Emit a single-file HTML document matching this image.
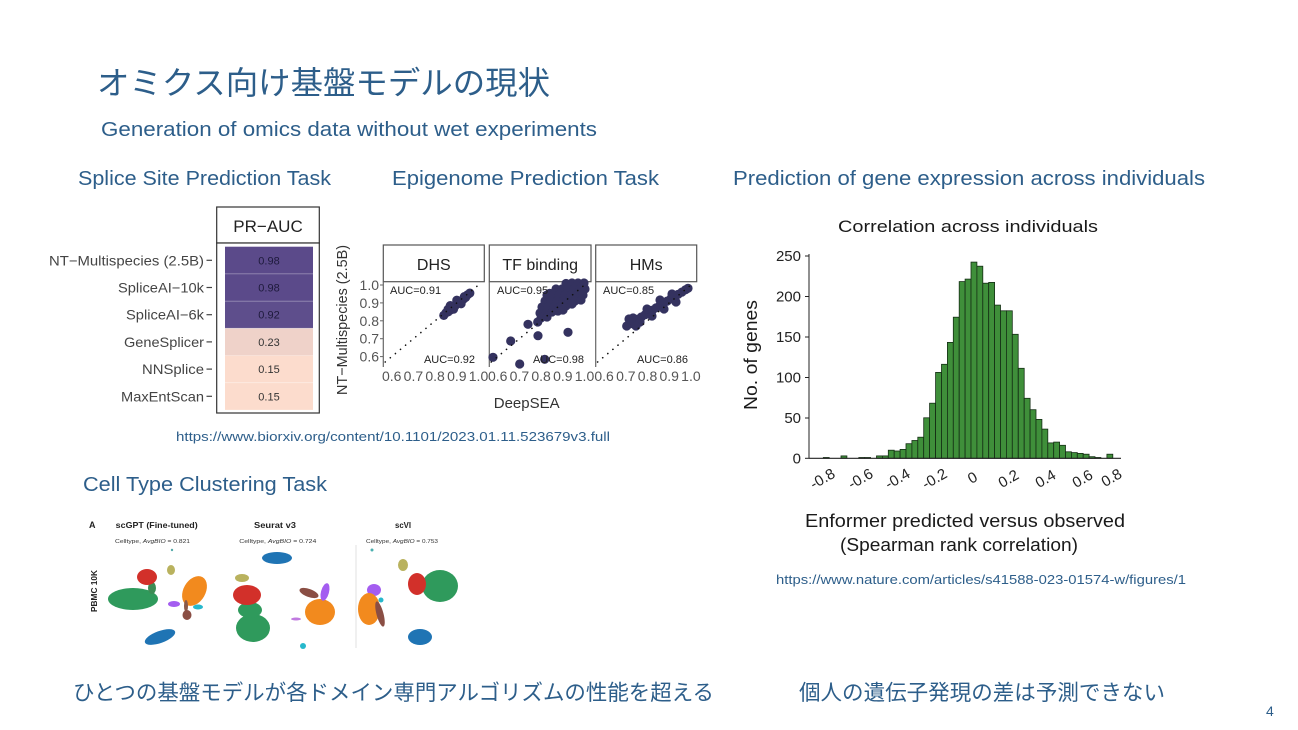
<!DOCTYPE html>
<html>
<head>
<meta charset="utf-8">
<style>
html,body{margin:0;padding:0;background:#fff;}
body{width:1298px;height:730px;overflow:hidden;}
svg{display:block;}
.ja{font-family:"Liberation Sans","Noto Sans CJK JP",sans-serif;}
.lt{font-family:"Liberation Sans",sans-serif;}
</style>
</head>
<body>
<svg width="1298" height="730" viewBox="0 0 1298 730" xmlns="http://www.w3.org/2000/svg">
<rect x="0" y="0" width="1298" height="730" fill="#fff"/>

<!-- Slide texts -->
<g fill="#2d5e8a">
<text class="ja" x="97" y="94" font-size="32" textLength="453" lengthAdjust="spacingAndGlyphs">オミクス向け基盤モデルの現状</text>
<text class="lt" x="101" y="136" font-size="20" textLength="496" lengthAdjust="spacingAndGlyphs">Generation of omics data without wet experiments</text>
<text class="lt" x="78" y="185" font-size="20" textLength="253" lengthAdjust="spacingAndGlyphs">Splice Site Prediction Task</text>
<text class="lt" x="392" y="185" font-size="20" textLength="267" lengthAdjust="spacingAndGlyphs">Epigenome Prediction Task</text>
<text class="lt" x="733" y="185" font-size="20" textLength="472" lengthAdjust="spacingAndGlyphs">Prediction of gene expression across individuals</text>
<text class="lt" x="176" y="441" font-size="12.5" textLength="434" lengthAdjust="spacingAndGlyphs">https://www.biorxiv.org/content/10.1101/2023.01.11.523679v3.full</text>
<text class="lt" x="83" y="491" font-size="20" textLength="244" lengthAdjust="spacingAndGlyphs">Cell Type Clustering Task</text>
<text class="lt" x="776" y="584" font-size="12.5" textLength="410" lengthAdjust="spacingAndGlyphs">https://www.nature.com/articles/s41588-023-01574-w/figures/1</text>
<text class="ja" x="73" y="700" font-size="21.4" textLength="641" lengthAdjust="spacingAndGlyphs">ひとつの基盤モデルが各ドメイン専門アルゴリズムの性能を超える</text>
<text class="ja" x="799" y="700" font-size="21.5" textLength="366" lengthAdjust="spacingAndGlyphs">個人の遺伝子発現の差は予測できない</text>
<text class="lt" x="1266" y="716" font-size="14">4</text>
</g>

<!-- Heatmap: PR-AUC -->
<g class="lt">
<rect x="216.7" y="207" width="102.6" height="36" fill="#fff" stroke="#333" stroke-width="1.2"/>
<text x="268" y="232" font-size="17" text-anchor="middle" fill="#222">PR−AUC</text>
<rect x="216.7" y="243" width="102.6" height="170" fill="#fff" stroke="#333" stroke-width="1.2"/>
<rect x="225" y="246.7" width="88" height="27.2" fill="#5b4a8a"/>
<rect x="225" y="273.9" width="88" height="27.2" fill="#5b4a8a"/>
<rect x="225" y="301.1" width="88" height="27.2" fill="#5e4e8c"/>
<rect x="225" y="328.3" width="88" height="27.2" fill="#efd2c9"/>
<rect x="225" y="355.5" width="88" height="27.2" fill="#fcdccd"/>
<rect x="225" y="382.7" width="88" height="27.2" fill="#fcdccd"/>
<g stroke="#fff" stroke-opacity="0.35" stroke-width="0.8">
<line x1="225" y1="273.9" x2="313" y2="273.9"/>
<line x1="225" y1="301.1" x2="313" y2="301.1"/>
<line x1="225" y1="328.3" x2="313" y2="328.3"/>
<line x1="225" y1="355.5" x2="313" y2="355.5"/>
<line x1="225" y1="382.7" x2="313" y2="382.7"/>
</g>
<g font-size="11" text-anchor="middle">
<text x="269" y="264.3" fill="#1e1a3c">0.98</text>
<text x="269" y="291.5" fill="#1e1a3c">0.98</text>
<text x="269" y="318.7" fill="#1e1a3c">0.92</text>
<text x="269" y="345.9" fill="#333">0.23</text>
<text x="269" y="373.1" fill="#333">0.15</text>
<text x="269" y="400.3" fill="#333">0.15</text>
</g>
<g font-size="14" fill="#444" text-anchor="end">
<text x="204" y="265.3" textLength="155" lengthAdjust="spacingAndGlyphs">NT−Multispecies (2.5B)</text>
<text x="204" y="292.5" textLength="86" lengthAdjust="spacingAndGlyphs">SpliceAI−10k</text>
<text x="204" y="319.7" textLength="78" lengthAdjust="spacingAndGlyphs">SpliceAI−6k</text>
<text x="204" y="346.9" textLength="80" lengthAdjust="spacingAndGlyphs">GeneSplicer</text>
<text x="204" y="374.1" textLength="62" lengthAdjust="spacingAndGlyphs">NNSplice</text>
<text x="204" y="401.3" textLength="83" lengthAdjust="spacingAndGlyphs">MaxEntScan</text>
</g>
<g stroke="#444" stroke-width="1.2">
<line x1="206.5" y1="260.3" x2="212" y2="260.3"/>
<line x1="206.5" y1="287.5" x2="212" y2="287.5"/>
<line x1="206.5" y1="314.7" x2="212" y2="314.7"/>
<line x1="206.5" y1="341.9" x2="212" y2="341.9"/>
<line x1="206.5" y1="369.1" x2="212" y2="369.1"/>
<line x1="206.5" y1="396.3" x2="212" y2="396.3"/>
</g>
</g>

<!-- Epigenome scatter panels -->
<g class="lt">
<!-- strips -->
<g fill="#fff" stroke="#555" stroke-width="1.2">
<rect x="383.3" y="245" width="101" height="36.7"/>
<rect x="489.3" y="245" width="101.7" height="36.7"/>
<rect x="595.7" y="245" width="101" height="36.7"/>
</g>
<g font-size="16" fill="#222" text-anchor="middle">
<text x="433.8" y="270">DHS</text>
<text x="540.2" y="270">TF binding</text>
<text x="646.2" y="270">HMs</text>
</g>
<!-- left axis lines -->
<g stroke="#666" stroke-width="1.2">
<line x1="383.3" y1="281.7" x2="383.3" y2="367"/>
<line x1="489.3" y1="281.7" x2="489.3" y2="367"/>
<line x1="595.7" y1="281.7" x2="595.7" y2="367"/>
</g>
<!-- y ticks -->
<g stroke="#666" stroke-width="1">
<line x1="380" y1="285" x2="383.3" y2="285"/>
<line x1="380" y1="302.9" x2="383.3" y2="302.9"/>
<line x1="380" y1="320.8" x2="383.3" y2="320.8"/>
<line x1="380" y1="338.7" x2="383.3" y2="338.7"/>
<line x1="380" y1="356.6" x2="383.3" y2="356.6"/>
</g>
<g font-size="14" fill="#555" text-anchor="end">
<text x="379" y="290">1.0</text>
<text x="379" y="307.9">0.9</text>
<text x="379" y="325.8">0.8</text>
<text x="379" y="343.7">0.7</text>
<text x="379" y="361.6">0.6</text>
</g>
<!-- x tick labels -->
<g font-size="14" fill="#555" text-anchor="middle">
<text x="391.7" y="381">0.6</text><text x="413.4" y="381">0.7</text><text x="435.1" y="381">0.8</text><text x="456.8" y="381">0.9</text><text x="478.5" y="381">1.0</text>
<text x="497.7" y="381">0.6</text><text x="519.4" y="381">0.7</text><text x="541.1" y="381">0.8</text><text x="562.8" y="381">0.9</text><text x="584.5" y="381">1.0</text>
<text x="604.1" y="381">0.6</text><text x="625.8" y="381">0.7</text><text x="647.5" y="381">0.8</text><text x="669.2" y="381">0.9</text><text x="690.9" y="381">1.0</text>
</g>
<text x="526.7" y="408" font-size="15" fill="#333" text-anchor="middle">DeepSEA</text>
<text transform="translate(347,320) rotate(-90)" font-size="15" fill="#333" text-anchor="middle" textLength="150" lengthAdjust="spacingAndGlyphs">NT−Multispecies (2.5B)</text>

<!-- points -->
<g fill="#34325f">
<!-- DHS -->
<circle cx="443.8" cy="315.4" r="4.6"/><circle cx="446" cy="312.7" r="4.6"/><circle cx="448.1" cy="311.9" r="4.6"/>
<circle cx="450.3" cy="310.1" r="4.6"/><circle cx="451.4" cy="308.3" r="4.6"/><circle cx="452.5" cy="307.4" r="4.6"/>
<circle cx="454.6" cy="306.5" r="4.6"/><circle cx="455.7" cy="304.7" r="4.6"/><circle cx="456.8" cy="303.8" r="4.6"/>
<circle cx="459" cy="302.9" r="4.6"/><circle cx="461.1" cy="301.1" r="4.6"/><circle cx="463.3" cy="299.3" r="4.6"/>
<circle cx="465.5" cy="297.5" r="4.6"/><circle cx="467.6" cy="294.8" r="4.6"/><circle cx="469.8" cy="293.1" r="4.6"/>
<circle cx="450.3" cy="305.6" r="4.6"/><circle cx="456.8" cy="300.2" r="4.6"/><circle cx="461.1" cy="303.8" r="4.6"/>
<circle cx="453.5" cy="309.2" r="4.6"/><circle cx="464.4" cy="296.6" r="4.6"/><circle cx="448.1" cy="309.2" r="4.6"/>
<!-- TF binding -->
<circle cx="493" cy="357.3" r="4.6"/><circle cx="510.7" cy="341" r="4.6"/><circle cx="519.7" cy="364" r="4.6"/>
<circle cx="528" cy="324.3" r="4.6"/><circle cx="537.7" cy="322" r="4.6"/><circle cx="538" cy="335.7" r="4.6"/>
<circle cx="544.7" cy="359.3" r="4.6"/><circle cx="568" cy="332.3" r="4.6"/><circle cx="549.7" cy="293.3" r="4.6"/>
<circle cx="566" cy="283.5" r="4.6"/><circle cx="572" cy="283" r="4.6"/><circle cx="578" cy="283" r="4.6"/><circle cx="584" cy="283" r="4.6"/>
<circle cx="556" cy="289" r="4.6"/><circle cx="562" cy="289" r="4.6"/><circle cx="568" cy="289" r="4.6"/><circle cx="574" cy="289" r="4.6"/><circle cx="580" cy="289" r="4.6"/><circle cx="585" cy="289" r="4.6"/>
<circle cx="547" cy="295" r="4.6"/><circle cx="553" cy="295" r="4.6"/><circle cx="559" cy="295" r="4.6"/><circle cx="565" cy="295" r="4.6"/><circle cx="571" cy="295" r="4.6"/><circle cx="577" cy="295" r="4.6"/><circle cx="583" cy="295" r="4.6"/>
<circle cx="545" cy="301" r="4.6"/><circle cx="551" cy="301" r="4.6"/><circle cx="557" cy="301" r="4.6"/><circle cx="563" cy="301" r="4.6"/><circle cx="569" cy="301" r="4.6"/><circle cx="575" cy="301" r="4.6"/><circle cx="581" cy="300" r="4.6"/>
<circle cx="542" cy="307" r="4.6"/><circle cx="548" cy="307" r="4.6"/><circle cx="554" cy="307" r="4.6"/><circle cx="560" cy="307" r="4.6"/><circle cx="566" cy="306" r="4.6"/><circle cx="572" cy="304" r="4.6"/>
<circle cx="540" cy="313" r="4.6"/><circle cx="546" cy="313" r="4.6"/><circle cx="552" cy="312" r="4.6"/><circle cx="558" cy="311" r="4.6"/><circle cx="563" cy="310" r="4.6"/>
<circle cx="541" cy="318" r="4.6"/><circle cx="547" cy="317" r="4.6"/>
<!-- HMs -->
<circle cx="626.7" cy="326" r="4.6"/><circle cx="630.4" cy="323.7" r="4.6"/><circle cx="634.1" cy="321.5" r="4.6"/>
<circle cx="637.7" cy="319.2" r="4.6"/><circle cx="641.4" cy="317" r="4.6"/><circle cx="645.1" cy="314.7" r="4.6"/>
<circle cx="648.8" cy="312.4" r="4.6"/><circle cx="652.4" cy="310.2" r="4.6"/><circle cx="656.1" cy="307.9" r="4.6"/>
<circle cx="659.8" cy="305.6" r="4.6"/><circle cx="663.5" cy="303.4" r="4.6"/><circle cx="667.2" cy="301.1" r="4.6"/>
<circle cx="670.8" cy="298.9" r="4.6"/><circle cx="674.5" cy="296.6" r="4.6"/><circle cx="678.2" cy="294.3" r="4.6"/>
<circle cx="681.9" cy="292.1" r="4.6"/><circle cx="685.5" cy="289.8" r="4.6"/><circle cx="688" cy="288.3" r="4.6"/>
<circle cx="633" cy="318" r="4.6"/><circle cx="640" cy="322" r="4.6"/><circle cx="647" cy="309" r="4.6"/>
<circle cx="652" cy="316" r="4.6"/><circle cx="660" cy="300" r="4.6"/><circle cx="664" cy="309" r="4.6"/>
<circle cx="672" cy="294" r="4.6"/><circle cx="676" cy="302" r="4.6"/><circle cx="636" cy="326" r="4.6"/><circle cx="629" cy="319" r="4.6"/>
</g>
<!-- diagonal dotted lines -->
<g stroke="#111" stroke-width="1.6" stroke-linecap="round" stroke-dasharray="0.1 6.5">
<line x1="385.2" y1="362" x2="478.5" y2="285"/>
<line x1="491.2" y1="362" x2="584.5" y2="285"/>
<line x1="597.6" y1="362" x2="690.9" y2="285"/>
</g>
<!-- AUC labels -->
<g font-size="11" fill="#222">
<text x="390" y="294">AUC=0.91</text>
<text x="475" y="363" text-anchor="end">AUC=0.92</text>
<text x="497" y="294">AUC=0.95</text>
<text x="584" y="363" text-anchor="end">AUC=0.98</text>
<text x="603" y="294">AUC=0.85</text>
<text x="688" y="363" text-anchor="end">AUC=0.86</text>
</g>
</g>

<!-- UMAP panels -->
<g class="lt">
<text x="89" y="528" font-size="9" font-weight="bold" fill="#222">A</text>
<g font-size="8.5" font-weight="bold" fill="#222" text-anchor="middle">
<text x="156.7" y="528" textLength="82" lengthAdjust="spacingAndGlyphs">scGPT (Fine-tuned)</text>
<text x="275" y="528" textLength="42" lengthAdjust="spacingAndGlyphs">Seurat v3</text>
<text x="403" y="528" textLength="16" lengthAdjust="spacingAndGlyphs">scVI</text>
</g>
<g font-size="5.8" fill="#333">
<text x="115" y="543" textLength="75" lengthAdjust="spacingAndGlyphs">Celltype, <tspan font-style="italic">AvgBIO</tspan> = 0.821</text>
<text x="239.3" y="543" textLength="77" lengthAdjust="spacingAndGlyphs">Celltype, <tspan font-style="italic">AvgBIO</tspan> = 0.724</text>
<text x="366" y="543" textLength="72" lengthAdjust="spacingAndGlyphs">Celltype, <tspan font-style="italic">AvgBIO</tspan> = 0.753</text>
</g>
<text transform="translate(97,591) rotate(-90)" font-size="8" font-weight="bold" fill="#222" text-anchor="middle" textLength="42" lengthAdjust="spacingAndGlyphs">PBMC 10K</text>
<line x1="356" y1="545" x2="356" y2="648" stroke="#e2e2e2" stroke-width="1"/>
<!-- panel 1 -->
<ellipse cx="133" cy="599" rx="25" ry="11" fill="#2f9a5c"/>
<ellipse cx="152" cy="588" rx="4" ry="6" fill="#3d8c55"/>
<ellipse cx="147" cy="577" rx="10" ry="8" fill="#d2302a"/>
<ellipse cx="171" cy="570" rx="4" ry="5" fill="#b9b25e"/>
<ellipse cx="194.5" cy="591" rx="11" ry="16" transform="rotate(30 194.5 591)" fill="#f28a1e"/>
<ellipse cx="174" cy="604" rx="6" ry="3" fill="#a45df0"/>
<ellipse cx="198" cy="607" rx="5" ry="2.5" fill="#27b8cc"/>
<ellipse cx="186" cy="606" rx="2" ry="6" fill="#8a5a4a"/>
<ellipse cx="187" cy="615" rx="4.5" ry="5" fill="#8a4e44"/>
<ellipse cx="160" cy="637" rx="16" ry="6" transform="rotate(-20 160 637)" fill="#1f74b4"/>
<circle cx="172" cy="550" r="1.2" fill="#5aa"/>
<!-- panel 2 -->
<ellipse cx="277" cy="558" rx="15" ry="6" fill="#1f74b4"/>
<ellipse cx="242" cy="578" rx="7" ry="4" fill="#b9b25e"/>
<ellipse cx="253" cy="628" rx="17" ry="14" fill="#2f9a5c"/>
<ellipse cx="250" cy="610" rx="12" ry="8" fill="#2f9a5c"/>
<ellipse cx="247" cy="595" rx="14" ry="10" fill="#d2302a"/>
<ellipse cx="320" cy="612" rx="15" ry="13" fill="#f28a1e"/>
<ellipse cx="309" cy="593" rx="10" ry="4" transform="rotate(20 309 593)" fill="#8a4e44"/>
<ellipse cx="325" cy="592" rx="4" ry="9" transform="rotate(15 325 592)" fill="#a45df0"/>
<ellipse cx="296" cy="619" rx="5" ry="1.5" fill="#c07ae0"/>
<circle cx="303" cy="646" r="3" fill="#27b8cc"/>
<!-- panel 3 -->
<ellipse cx="440" cy="586" rx="18" ry="16" fill="#2f9a5c"/>
<ellipse cx="417" cy="584" rx="9" ry="11" fill="#d2302a"/>
<ellipse cx="403" cy="565" rx="5" ry="6" fill="#b9b25e"/>
<ellipse cx="374" cy="590" rx="7" ry="6" fill="#a45df0"/>
<ellipse cx="369" cy="609" rx="11" ry="16" fill="#f28a1e"/>
<ellipse cx="380" cy="614" rx="3.5" ry="13" transform="rotate(-15 380 614)" fill="#8a4e44"/>
<circle cx="381" cy="600" r="2.5" fill="#27b8cc"/>
<ellipse cx="420" cy="637" rx="12" ry="8" fill="#1f74b4"/>
<circle cx="372" cy="550" r="1.5" fill="#4ab0b0"/>
</g>

<!-- Histogram -->
<g class="lt">
<text x="968" y="232" font-size="17" fill="#1a1a1a" text-anchor="middle" textLength="260" lengthAdjust="spacingAndGlyphs">Correlation across individuals</text>
<g transform="matrix(1 0 0 -1 0 458.3)" fill="#3f8f3a" stroke="#142e14" stroke-width="0.8">
<rect x="823.3" y="0" width="5.9" height="0.8"/>
<rect x="841.0" y="0" width="5.9" height="2.4"/>
<rect x="858.8" y="0" width="5.9" height="0.8"/>
<rect x="864.7" y="0" width="5.9" height="0.8"/>
<rect x="876.5" y="0" width="5.9" height="2.4"/>
<rect x="882.4" y="0" width="5.9" height="2.4"/>
<rect x="888.3" y="0" width="5.9" height="8.1"/>
<rect x="894.2" y="0" width="5.9" height="7.3"/>
<rect x="900.1" y="0" width="5.9" height="8.9"/>
<rect x="906.0" y="0" width="5.9" height="14.6"/>
<rect x="911.9" y="0" width="5.9" height="17.8"/>
<rect x="917.8" y="0" width="5.9" height="21.1"/>
<rect x="923.7" y="0" width="5.9" height="40.5"/>
<rect x="929.6" y="0" width="5.9" height="55.1"/>
<rect x="935.6" y="0" width="5.9" height="85.9"/>
<rect x="941.5" y="0" width="5.9" height="94.0"/>
<rect x="947.4" y="0" width="5.9" height="115.9"/>
<rect x="953.3" y="0" width="5.9" height="141.1"/>
<rect x="959.2" y="0" width="5.9" height="176.7"/>
<rect x="965.1" y="0" width="5.9" height="179.2"/>
<rect x="971.0" y="0" width="5.9" height="196.2"/>
<rect x="976.9" y="0" width="5.9" height="192.1"/>
<rect x="982.8" y="0" width="5.9" height="175.1"/>
<rect x="988.7" y="0" width="5.9" height="175.9"/>
<rect x="994.6" y="0" width="5.9" height="153.2"/>
<rect x="1000.5" y="0" width="5.9" height="147.5"/>
<rect x="1006.4" y="0" width="5.9" height="147.5"/>
<rect x="1012.3" y="0" width="5.9" height="124.0"/>
<rect x="1018.3" y="0" width="5.9" height="90.0"/>
<rect x="1024.2" y="0" width="5.9" height="60.0"/>
<rect x="1030.1" y="0" width="5.9" height="48.6"/>
<rect x="1036.0" y="0" width="5.9" height="38.9"/>
<rect x="1041.9" y="0" width="5.9" height="29.2"/>
<rect x="1047.8" y="0" width="5.9" height="15.4"/>
<rect x="1053.7" y="0" width="5.9" height="16.2"/>
<rect x="1059.6" y="0" width="5.9" height="13.0"/>
<rect x="1065.5" y="0" width="5.9" height="6.5"/>
<rect x="1071.4" y="0" width="5.9" height="5.7"/>
<rect x="1077.3" y="0" width="5.9" height="4.9"/>
<rect x="1083.2" y="0" width="5.9" height="4.1"/>
<rect x="1089.1" y="0" width="5.9" height="1.6"/>
<rect x="1095.0" y="0" width="5.9" height="0.8"/>
<rect x="1106.9" y="0" width="5.9" height="4.1"/>
</g>
<!-- axes -->
<line x1="809" y1="254" x2="809" y2="458.3" stroke="#222" stroke-width="1"/>
<line x1="809" y1="458.3" x2="1121" y2="458.3" stroke="#222" stroke-width="1.2"/>
<g stroke="#222" stroke-width="1">
<line x1="805" y1="256" x2="809" y2="256"/>
<line x1="805" y1="296.5" x2="809" y2="296.5"/>
<line x1="805" y1="337" x2="809" y2="337"/>
<line x1="805" y1="377.5" x2="809" y2="377.5"/>
<line x1="805" y1="418" x2="809" y2="418"/>
<line x1="805" y1="458.3" x2="809" y2="458.3"/>
</g>
<g font-size="15" fill="#222" text-anchor="end">
<text x="801" y="261">250</text>
<text x="801" y="301.5">200</text>
<text x="801" y="342">150</text>
<text x="801" y="382.5">100</text>
<text x="801" y="423">50</text>
<text x="801" y="463.3">0</text>
</g>
<g font-size="15" fill="#222" text-anchor="middle">
<text transform="translate(825,483) rotate(-30)">-0.8</text>
<text transform="translate(863,483) rotate(-30)">-0.6</text>
<text transform="translate(900,483) rotate(-30)">-0.4</text>
<text transform="translate(937,483) rotate(-30)">-0.2</text>
<text transform="translate(975,482) rotate(-30)">0</text>
<text transform="translate(1011,483) rotate(-30)">0.2</text>
<text transform="translate(1048,483) rotate(-30)">0.4</text>
<text transform="translate(1085,483) rotate(-30)">0.6</text>
<text transform="translate(1114,482) rotate(-30)">0.8</text>
</g>
<text transform="translate(757,355) rotate(-90)" font-size="18" fill="#1a1a1a" text-anchor="middle" textLength="110" lengthAdjust="spacingAndGlyphs">No. of genes</text>
<text x="965" y="527" font-size="18" fill="#1a1a1a" text-anchor="middle" textLength="320" lengthAdjust="spacingAndGlyphs">Enformer predicted versus observed</text>
<text x="959" y="551" font-size="18" fill="#1a1a1a" text-anchor="middle" textLength="238" lengthAdjust="spacingAndGlyphs">(Spearman rank correlation)</text>
</g>
</svg>
</body>
</html>
